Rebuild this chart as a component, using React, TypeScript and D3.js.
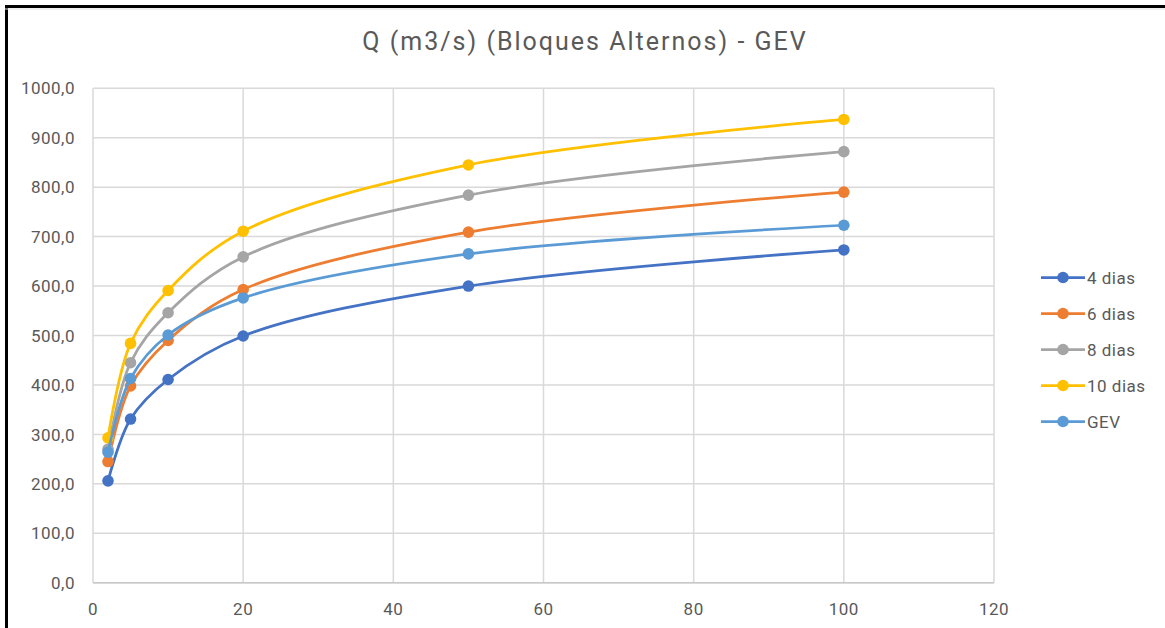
import React from "react";
import * as d3 from "d3";

const returnPeriods = [2, 5, 10, 20, 50, 100];
const seriesNames = ["4 dias", "6 dias", "8 dias", "10 dias", "GEV"];
const dias4 = [206, 331, 411, 499, 600, 673];
const dias6 = [245, 398, 490, 593, 709, 790];
const dias8 = [270, 445, 546, 659, 784, 872];
const dias10 = [293, 484, 591, 711, 845, 937];
const gev = [264, 413, 501, 576, 665, 723];
const seriesColors = ["#4472C4", "#ED7D31", "#A5A5A5", "#FFC000", "#5B9BD5"];
const xTicks = [0, 20, 40, 60, 80, 100, 120];
const yTicks = [0, 100, 200, 300, 400, 500, 600, 700, 800, 900, 1000];

const W = 1165;
const H = 628;
const FONT = "Roboto, 'Open Sans', sans-serif";

export default function App() {
  const x = d3.scaleLinear().domain([0, 120]).range([93, 994]);
  const y = d3.scaleLinear().domain([0, 1000]).range([582.7, 88.3]);
  const allSeries = [dias4, dias6, dias8, dias10, gev];
  const line = d3
    .line<[number, number]>()
    .x((d) => x(d[0]))
    .y((d) => y(d[1]))
    .curve(d3.curveCatmullRom.alpha(0.5));
  const fmt = (v: number) => v.toFixed(1).replace(".", ",");

  return (
    <svg
      width={W}
      height={H}
      style={{ position: "absolute", left: 0, top: 0, background: "#fff" }}
    >
      <rect x={0} y={0} width={W} height={H} fill="#fff" />
      <line x1={5} x2={W} y1={6.5} y2={6.5} stroke="#000" strokeWidth={3} />
      <line x1={6.5} x2={6.5} y1={5} y2={H} stroke="#000" strokeWidth={3} />
      <line x1={5} x2={W} y1={9} y2={9} stroke="#ddd" strokeWidth={1} />
      <text
        x={585}
        y={50}
        textAnchor="middle"
        fontFamily={FONT}
        fontSize={25}
        letterSpacing={2}
        fill="#595959"
      >
        Q (m3/s) (Bloques Alternos) - GEV
      </text>
      {yTicks.map((t) => (
        <g key={"y" + t}>
          <line x1={x(0)} x2={x(120)} y1={y(t)} y2={y(t)} stroke="#d9d9d9" strokeWidth={1.5} />
          <text
            x={75}
            y={y(t)}
            dy="0.36em"
            textAnchor="end"
            fontFamily={FONT}
            fontSize={17}
            letterSpacing={0.5}
            fill="#595959"
          >
            {fmt(t)}
          </text>
        </g>
      ))}
      {xTicks.map((t) => (
        <g key={"x" + t}>
          <line x1={x(t)} x2={x(t)} y1={y(0)} y2={y(1000)} stroke="#d9d9d9" strokeWidth={1.5} />
          <text
            x={x(t)}
            y={615}
            textAnchor="middle"
            fontFamily={FONT}
            fontSize={17}
            letterSpacing={0.5}
            fill="#595959"
          >
            {t}
          </text>
        </g>
      ))}
      <line x1={x(0)} x2={x(120)} y1={y(0)} y2={y(0)} stroke="#c8c8c8" strokeWidth={1.5} />
      {allSeries.map((vals, i) => {
        const pts = returnPeriods.map((p, j) => [p, vals[j]] as [number, number]);
        return (
          <g key={"s" + i}>
            <path d={line(pts) || ""} fill="none" stroke={seriesColors[i]} strokeWidth={2.75} />
            {pts.map((p, j) => (
              <circle key={j} cx={x(p[0])} cy={y(p[1])} r={5.8} fill={seriesColors[i]} />
            ))}
          </g>
        );
      })}
      {seriesNames.map((n, i) => {
        const ly = 277.5 + i * 36;
        return (
          <g key={"l" + n}>
            <line x1={1041} x2={1085} y1={ly} y2={ly} stroke={seriesColors[i]} strokeWidth={2.75} />
            <circle cx={1063} cy={ly} r={5.8} fill={seriesColors[i]} />
            <text
              x={1087}
              y={ly}
              dy="0.36em"
              fontFamily={FONT}
              fontSize={17}
              letterSpacing={0.5}
              fill="#595959"
            >
              {n}
            </text>
          </g>
        );
      })}
    </svg>
  );
}
